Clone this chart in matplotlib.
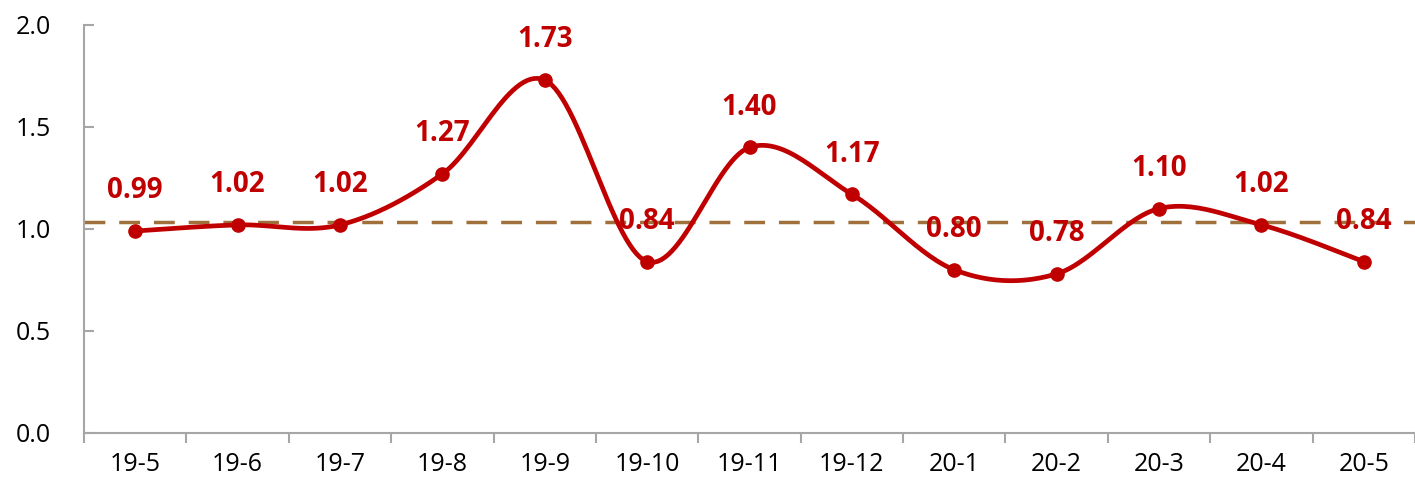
import numpy as np
import matplotlib.pyplot as plt

months = ['19-5', '19-6', '19-7', '19-8', '19-9', '19-10', '19-11',
          '19-12', '20-1', '20-2', '20-3', '20-4', '20-5']
values = [0.99, 1.02, 1.02, 1.27, 1.73, 0.84, 1.40, 1.17, 0.80, 0.78, 1.10, 1.02, 0.84]
ref_level = 1.035

RED = '#C00000'
BROWN = '#A0703C'
GREY = '#A6A6A6'

plt.rcParams['font.family'] = ['Open Sans', 'DejaVu Sans']


def smooth_curve(x, y, steps=30):
    # Excel-like smoothed line: Catmull-Rom segments drawn as cubic Bezier
    x = np.asarray(x, float)
    y = np.asarray(y, float)
    px = np.concatenate([[x[0]], x, [x[-1]]])
    py = np.concatenate([[y[0]], y, [y[-1]]])
    t = np.linspace(0, 1, steps)[:, None]
    xs, ys = [], []
    for i in range(1, len(px) - 2):
        p0 = np.array([px[i], py[i]])
        p3 = np.array([px[i + 1], py[i + 1]])
        c1 = p0 + (np.array([px[i + 1], py[i + 1]]) - np.array([px[i - 1], py[i - 1]])) / 6
        c2 = p3 - (np.array([px[i + 2], py[i + 2]]) - np.array([px[i], py[i]])) / 6
        pts = ((1 - t) ** 3) * p0 + 3 * ((1 - t) ** 2) * t * c1 + 3 * (1 - t) * t ** 2 * c2 + t ** 3 * p3
        xs.append(pts[:, 0])
        ys.append(pts[:, 1])
    return np.concatenate(xs), np.concatenate(ys)


fig = plt.figure(figsize=(14.15, 4.82), dpi=100)
ax = fig.add_axes([0.0594, 0.1017, 0.9406, 0.8465])

xi = np.arange(len(months))
ax.axhline(ref_level, color=BROWN, lw=2.5, ls=(0, (6, 4)), zorder=1)

sx, sy = smooth_curve(xi, values)
ax.plot(sx, sy, color=RED, lw=3.4, zorder=2, solid_capstyle='round')
ax.plot(xi, values, 'o', color=RED, ms=9.5, zorder=3)

for x, v in zip(xi, values):
    ax.annotate(f'{v:.2f}', (x, v), xytext=(0, 29), textcoords='offset points',
                ha='center', va='center', color=RED, fontsize=20, fontweight='bold', zorder=4)

ax.set_xlim(-0.5, len(months) - 0.5)
ax.set_ylim(0, 2.0)
ax.set_yticks([0, 0.5, 1.0, 1.5, 2.0])
ax.set_yticklabels(['0.0', '0.5', '1.0', '1.5', '2.0'])
ax.set_xticks(xi)
ax.set_xticklabels(months)
ax.set_xticks(np.arange(-0.5, len(months), 1), minor=True)

for s in ['top', 'right']:
    ax.spines[s].set_visible(False)
for s in ['left', 'bottom']:
    ax.spines[s].set_color(GREY)
    ax.spines[s].set_linewidth(1.5)

ax.tick_params(axis='x', which='major', length=0, labelsize=18, pad=14, colors='black')
ax.tick_params(axis='x', which='minor', length=7, width=1.5, color=GREY, direction='out')
ax.tick_params(axis='y', length=7, width=1.5, color=GREY, direction='in',
               labelsize=18, pad=24)

fig.savefig('out.png', dpi=100)
